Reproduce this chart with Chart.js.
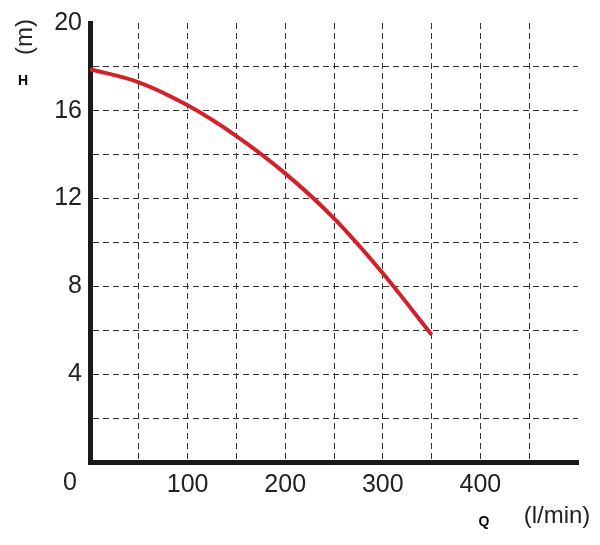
<!DOCTYPE html>
<html>
<head>
<meta charset="utf-8">
<script src="https://cdn.jsdelivr.net/npm/chart.js@4"></script>
<style>
  html, body { margin: 0; padding: 0; background: #fff; }
  #wrap { width: 600px; height: 545px; }
</style>
</head>
<body>
<div id="wrap"><canvas id="pumpChart" width="600" height="545"></canvas></div>
<script>
  // flow (l/min) vs head (m)
  const flow = [0, 50, 100, 150, 200, 250, 300, 350];
  const head = [17.9, 17.3, 16.25, 14.85, 13.15, 11.1, 8.6, 5.8];
  const xLabels = [100, 200, 300, 400];
  const yLabels = [4, 8, 12, 16, 20];

  const FONT = 'Liberation Sans, Arial, sans-serif';

  const extraText = {
    id: 'extraText',
    afterDraw(chart) {
      const c = chart.ctx;
      const xs = chart.scales.x, ys = chart.scales.y;
      c.save();
      c.fillStyle = '#222';
      // shared origin label
      c.font = '25px ' + FONT;
      c.textAlign = 'center';
      c.textBaseline = 'middle';
      c.fillText('0', xs.getPixelForValue(0) - 20, ys.getPixelForValue(0) + 21);
      // axis names
      c.font = 'bold 14px ' + FONT;
      c.fillStyle = '#000';
      c.fillText('H', 23, 81);
      c.fillText('Q', 484, 522);
      c.font = '24px ' + FONT;
      c.fillStyle = '#222';
      c.fillText('(l/min)', 557, 516);
      c.translate(25, 37);
      c.rotate(-Math.PI / 2);
      c.fillText('(m)', 0, 0);
      c.restore();
    }
  };

  new Chart(document.getElementById('pumpChart').getContext('2d'), {
    type: 'line',
    data: {
      datasets: [{
        data: flow.map((q, i) => ({ x: q, y: head[i] })),
        borderColor: '#d1222b',
        borderWidth: 4,
        pointRadius: 0,
        cubicInterpolationMode: 'monotone',
        fill: false
      }]
    },
    options: {
      responsive: false,
      animation: false,
      layout: { padding: { left: 0, top: 16, right: 22, bottom: 0 } },
      plugins: { legend: { display: false }, tooltip: { enabled: false } },
      scales: {
        x: {
          type: 'linear',
          min: 0, max: 500,
          afterFit(s) { s.height = 83; },
          ticks: {
            stepSize: 50,
            autoSkip: false,
            maxRotation: 0,
            padding: 8,
            color: '#222',
            font: { family: FONT, size: 25 },
            callback: v => xLabels.includes(v) ? String(v) : ''
          },
          grid: {
            drawTicks: false,
            color: ctx => (ctx.tick && (ctx.tick.value === 0 || ctx.tick.value === 500)) ? 'rgba(0,0,0,0)' : '#333',
            lineWidth: 1
          },
          border: { display: true, color: '#1a1a1a', width: 5, dash: [6, 4] }
        },
        y: {
          min: 0, max: 20,
          afterFit(s) { s.width = 90; },
          ticks: {
            stepSize: 2,
            autoSkip: false,
            padding: 8,
            color: '#222',
            font: { family: FONT, size: 25 },
            callback: v => yLabels.includes(v) ? String(v) : ''
          },
          grid: {
            drawTicks: false,
            color: ctx => (ctx.tick && (ctx.tick.value === 0 || ctx.tick.value === 20)) ? 'rgba(0,0,0,0)' : '#333',
            lineWidth: 1
          },
          border: { display: true, color: '#1a1a1a', width: 5, dash: [6, 4] }
        }
      }
    },
    plugins: [extraText]
  });
</script>
</body>
</html>
